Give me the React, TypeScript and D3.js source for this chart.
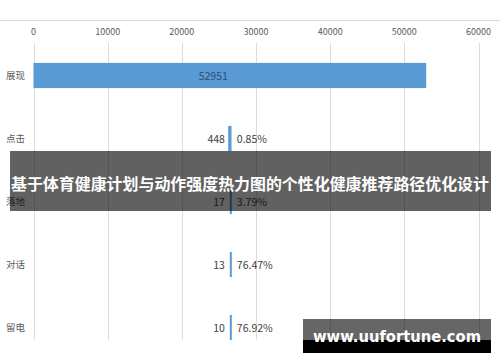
import * as d3 from 'd3';
import React, { useEffect, useRef } from 'react';

const categories = ['展现', '点击', '落地', '对话', '留电'];
const values = [52951, 448, 17, 13, 10];
const rates = ['', '0.85%', '3.79%', '76.47%', '76.92%'];
const xTicks = [0, 10000, 20000, 30000, 40000, 50000, 60000];

const title = '基于体育健康计划与动作强度热力图的个性化健康推荐路径优化设计';
const watermark = 'www.uufortune.com';

const W = 500;
const H = 362;
const FONT = '"Noto Sans CJK SC", "Noto Sans", sans-serif';

const App = () => {
  const svgRef = useRef<SVGSVGElement>(null);

  useEffect(() => {
    const svg = d3.select(svgRef.current);
    svg.selectAll('*').remove();

    const x = d3.scaleLinear().domain([0, 60000]).range([33.5, 478.5]);
    const y = d3.scaleBand().domain(categories).range([44, 359]).paddingInner(0.6).paddingOuter(0.3);
    const maxV = d3.max(values) || 0;
    const mid = x(maxV / 2);

    svg.append('rect').attr('width', W).attr('height', H).attr('fill', '#fff');

    // top border line
    svg.append('line')
      .attr('x1', 0).attr('x2', W).attr('y1', 20.5).attr('y2', 20.5)
      .attr('stroke', '#d9d9d9');

    // grid
    svg.append('g')
      .selectAll('line')
      .data(xTicks)
      .join('line')
      .attr('x1', (d) => Math.round(x(d)) + 0.5)
      .attr('x2', (d) => Math.round(x(d)) + 0.5)
      .attr('y1', 43)
      .attr('y2', 340)
      .attr('stroke', '#dcdcdc');

    // tick labels
    svg.append('g')
      .selectAll('text')
      .data(xTicks)
      .join('text')
      .attr('x', (d) => x(d))
      .attr('y', 35)
      .attr('text-anchor', 'middle')
      .attr('font-size', 9)
      .attr('font-family', FONT)
      .attr('fill', '#595959')
      .text((d) => d);

    // category labels
    svg.append('g')
      .selectAll('text')
      .data(categories)
      .join('text')
      .attr('x', 6)
      .attr('y', (d) => (y(d) as number) + y.bandwidth() / 2 + 3.5)
      .attr('font-size', 9.5)
      .attr('font-family', FONT)
      .attr('fill', '#595959')
      .text((d) => d);

    // bars (centred funnel)
    svg.append('g')
      .selectAll('rect')
      .data(values)
      .join('rect')
      .attr('x', (d) => x((maxV - d) / 2))
      .attr('width', (d) => Math.max(2, x(d) - x(0)))
      .attr('y', (d, i) => y(categories[i]) as number)
      .attr('height', y.bandwidth())
      .attr('fill', '#5b9bd5');

    // value labels
    svg.append('g')
      .selectAll('text')
      .data(values)
      .join('text')
      .attr('x', (d, i) => (i === 0 ? mid - 2 : mid - 5))
      .attr('y', (d, i) => (y(categories[i]) as number) + y.bandwidth() / 2 + 4)
      .attr('text-anchor', 'end')
      .attr('font-size', 10.5)
      .attr('font-family', FONT)
      .attr('fill', (d, i) => (i === 0 ? '#2f4f6f' : '#404040'))
      .text((d) => d);

    // conversion rates
    svg.append('g')
      .selectAll('text')
      .data(rates)
      .join('text')
      .attr('x', mid + 7)
      .attr('y', (d, i) => (y(categories[i]) as number) + y.bandwidth() / 2 + 4)
      .attr('font-size', 10.5)
      .attr('font-family', FONT)
      .attr('fill', '#404040')
      .text((d) => d);

    // title banner
    svg.append('rect')
      .attr('x', 10).attr('y', 151).attr('width', 481).attr('height', 60)
      .attr('fill', 'rgba(0,0,0,0.62)');
    svg.append('text')
      .attr('x', 250).attr('y', 190)
      .attr('text-anchor', 'middle')
      .attr('font-size', 15.4)
      .attr('font-weight', 'bold')
      .attr('font-family', FONT)
      .attr('fill', '#fff')
      .attr('textLength', 478)
      .attr('lengthAdjust', 'spacingAndGlyphs')
      .text(title);

    // watermark
    svg.append('rect')
      .attr('x', 303).attr('y', 319).attr('width', 188).attr('height', 34)
      .attr('fill', 'rgba(0,0,0,0.6)');
    svg.append('rect')
      .attr('x', 303).attr('y', 340).attr('width', 188).attr('height', 13)
      .attr('fill', '#000');
    svg.append('text')
      .attr('x', 397).attr('y', 342)
      .attr('text-anchor', 'middle')
      .attr('font-size', 16)
      .attr('font-weight', 'bold')
      .attr('font-family', '"DejaVu Sans", sans-serif')
      .attr('fill', '#fff')
      .attr('textLength', 168)
      .attr('lengthAdjust', 'spacingAndGlyphs')
      .text(watermark);
  }, []);

  return (
    <div style={{ position: 'fixed', left: 0, top: 0 }}>
      <svg ref={svgRef} width={W} height={H} style={{ display: 'block' }}></svg>
    </div>
  );
};

export default App;
